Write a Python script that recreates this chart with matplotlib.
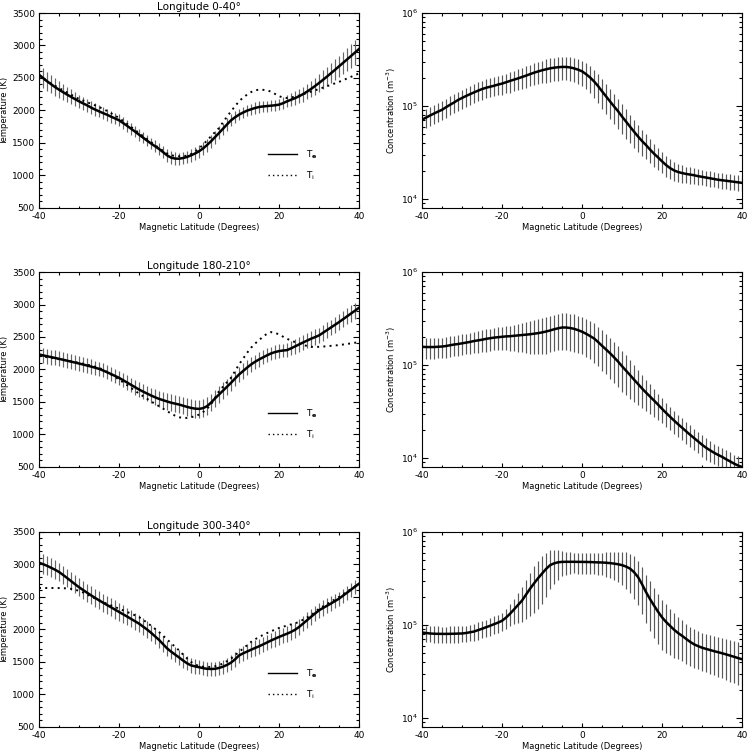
import numpy as np
import matplotlib
matplotlib.use("Agg")
import matplotlib.pyplot as plt
from matplotlib.ticker import MultipleLocator, LogLocator, NullFormatter
from matplotlib.lines import Line2D

# magnetic latitude grid, 1 degree steps
lat = list(range(-40, 41))

titles = ["Longitude 0-40°", "Longitude 180-210°", "Longitude 300-340°"]

# ---- Longitude 0-40 ----
te_0 = [2550, 2500, 2450, 2405, 2360, 2320, 2282, 2245, 2210, 2175,
        2141, 2110, 2080, 2045, 2015, 1987, 1960, 1935, 1905, 1878,
        1849, 1808, 1765, 1720, 1675, 1628, 1583, 1537, 1492, 1450,
        1408, 1360, 1310, 1275, 1260, 1258, 1268, 1285, 1310, 1338,
        1372, 1415, 1468, 1526, 1590, 1654, 1720, 1785, 1849, 1895,
        1936, 1968, 1997, 2018, 2038, 2054, 2062, 2068, 2074, 2080,
        2090, 2112, 2141, 2165, 2190, 2218, 2252, 2290, 2331, 2376,
        2423, 2472, 2522, 2574, 2626, 2679, 2732, 2785, 2838, 2892,
        2946]
te_err_0 = [160, 150, 145, 140, 135, 130, 125, 120, 115, 110,
            105, 100, 100, 95, 95, 90, 90, 90, 90, 90,
            90, 90, 90, 90, 90, 90, 90, 90, 90, 90,
            95, 95, 95, 95, 95, 95, 95, 95, 95, 95,
            100, 100, 100, 100, 100, 100, 95, 95, 90, 90,
            90, 88, 85, 85, 85, 85, 85, 85, 85, 85,
            90, 92, 95, 100, 105, 110, 115, 120, 125, 130,
            140, 145, 150, 155, 160, 165, 170, 175, 180, 190,
            200]
ti_0 = [2530, 2490, 2450, 2415, 2380, 2346, 2312, 2278, 2244, 2210,
        2177, 2152, 2128, 2104, 2080, 2054, 2025, 1993, 1958, 1922,
        1885, 1840, 1795, 1748, 1701, 1654, 1607, 1560, 1514, 1468,
        1423, 1380, 1340, 1312, 1300, 1295, 1298, 1305, 1330, 1368,
        1413, 1473, 1538, 1603, 1667, 1731, 1820, 1905, 1987, 2065,
        2141, 2198, 2243, 2283, 2310, 2320, 2318, 2310, 2290, 2255,
        2220, 2200, 2192, 2200, 2215, 2230, 2250, 2270, 2290, 2310,
        2330, 2352, 2374, 2396, 2418, 2440, 2466, 2492, 2518, 2544,
        2570]
# concentration in units of 1e3 m^-3, relative error
ne_0 = [71, 75, 79, 83, 87, 91, 97, 103, 109, 116,
        122, 128, 134, 140, 146, 152, 157, 161, 165, 170,
        174, 180, 186, 192, 198, 205, 212, 220, 228, 235,
        242, 248, 254, 258, 261, 263, 263, 260, 254, 246,
        236, 220, 203, 184, 164, 144, 127, 112, 99, 88,
        77, 68, 60, 53, 47, 42, 38, 34, 30.7, 28,
        25.4, 23.2, 21.5, 20.3, 19.5, 19.0, 18.6, 18.3, 18.0, 17.6,
        17.3, 17.0, 16.7, 16.4, 16.1, 15.9, 15.7, 15.5, 15.3, 15.1,
        14.9]
ne_rel_0 = [0.23, 0.23, 0.23, 0.23, 0.23, 0.23, 0.23, 0.23, 0.23, 0.23,
            0.23, 0.23, 0.23, 0.23, 0.23, 0.23, 0.23, 0.23, 0.23, 0.23,
            0.24, 0.24, 0.25, 0.25, 0.25, 0.26, 0.26, 0.26, 0.27, 0.27,
            0.27, 0.28, 0.28, 0.28, 0.28, 0.28, 0.28, 0.29, 0.29, 0.30,
            0.30, 0.31, 0.32, 0.33, 0.34, 0.35, 0.35, 0.35, 0.35, 0.35,
            0.35, 0.35, 0.34, 0.33, 0.32, 0.31, 0.30, 0.29, 0.28, 0.27,
            0.26, 0.25, 0.24, 0.23, 0.22, 0.21, 0.20, 0.20, 0.19, 0.19,
            0.19, 0.19, 0.19, 0.19, 0.19, 0.19, 0.19, 0.19, 0.19, 0.19,
            0.19]

# ---- Longitude 180-210 ----
te_1 = [2231, 2218, 2204, 2191, 2178, 2164, 2150, 2136, 2121, 2107,
        2092, 2077, 2061, 2045, 2028, 2010, 1985, 1958, 1930, 1901,
        1872, 1836, 1800, 1764, 1728, 1692, 1660, 1630, 1600, 1573,
        1548, 1528, 1508, 1490, 1475, 1461, 1443, 1425, 1409, 1398,
        1394, 1405, 1435, 1490, 1555, 1615, 1675, 1735, 1795, 1860,
        1923, 1975, 2028, 2077, 2118, 2154, 2186, 2218, 2247, 2268,
        2283, 2292, 2298, 2325, 2355, 2385, 2415, 2444, 2473, 2498,
        2524, 2565, 2606, 2647, 2688, 2729, 2773, 2817, 2861, 2905,
        2950]
te_err_1 = [115, 115, 115, 115, 115, 115, 115, 115, 115, 115,
            115, 115, 112, 110, 110, 110, 108, 105, 105, 105,
            105, 108, 110, 112, 115, 118, 120, 120, 120, 120,
            120, 122, 125, 128, 130, 132, 135, 138, 140, 140,
            140, 140, 138, 135, 132, 130, 128, 125, 122, 120,
            120, 118, 116, 114, 112, 110, 108, 106, 105, 105,
            105, 105, 105, 108, 110, 112, 115, 118, 120, 120,
            120, 120, 120, 122, 122, 122, 124, 124, 125, 125,
            125]
ti_1 = [2210, 2200, 2190, 2180, 2170, 2158, 2148, 2136, 2124, 2113,
        2103, 2090, 2075, 2060, 2043, 2026, 1996, 1961, 1924, 1886,
        1846, 1803, 1760, 1716, 1673, 1630, 1590, 1550, 1510, 1472,
        1435, 1398, 1360, 1322, 1290, 1265, 1255, 1255, 1265, 1282,
        1306, 1345, 1395, 1461, 1565, 1666, 1735, 1805, 1872, 1975,
        2077, 2165, 2255, 2334, 2398, 2452, 2505, 2550, 2575, 2565,
        2539, 2505, 2473, 2445, 2421, 2401, 2380, 2362, 2349, 2347,
        2349, 2353, 2358, 2364, 2370, 2375, 2384, 2393, 2402, 2412,
        2421]
ne_1 = [157, 156, 156, 156, 157, 158, 160, 163, 166, 168,
        171, 174, 177, 181, 184, 187, 191, 194, 197, 199,
        201, 203, 204, 206, 208, 210, 212, 214, 217, 220,
        224, 229, 235, 242, 248, 253, 253, 250, 245, 237,
        228, 217, 205, 193, 177, 161, 147, 134, 121, 109,
        97, 87, 78, 69.6, 62.5, 56, 50.5, 45.8, 41.5, 37.5,
        33.8, 30.6, 27.8, 25.3, 23.1, 21.2, 19.4, 17.8, 16.4, 15.1,
        13.9, 12.9, 12.1, 11.4, 10.8, 10.3, 9.7, 9.2, 8.7, 8.3,
        8.0]
ne_rel_1 = [0.25, 0.25, 0.25, 0.25, 0.25, 0.25, 0.25, 0.25, 0.25, 0.25,
            0.25, 0.25, 0.25, 0.26, 0.26, 0.26, 0.27, 0.27, 0.27, 0.28,
            0.28, 0.29, 0.30, 0.31, 0.33, 0.35, 0.37, 0.39, 0.40, 0.41,
            0.42, 0.42, 0.42, 0.42, 0.42, 0.42, 0.42, 0.43, 0.43, 0.43,
            0.43, 0.44, 0.44, 0.45, 0.45, 0.46, 0.46, 0.47, 0.47, 0.47,
            0.47, 0.46, 0.45, 0.43, 0.41, 0.39, 0.37, 0.35, 0.33, 0.31,
            0.30, 0.29, 0.28, 0.28, 0.27, 0.27, 0.27, 0.26, 0.26, 0.26,
            0.26, 0.26, 0.26, 0.25, 0.25, 0.25, 0.25, 0.25, 0.25, 0.25,
            0.25]

# ---- Longitude 300-340 ----
te_2 = [3028, 3005, 2980, 2950, 2920, 2885, 2840, 2793, 2745, 2697,
        2650, 2608, 2566, 2526, 2487, 2449, 2413, 2377, 2342, 2306,
        2270, 2235, 2200, 2163, 2127, 2090, 2045, 2000, 1950, 1895,
        1840, 1775, 1710, 1660, 1615, 1570, 1523, 1480, 1448, 1432,
        1420, 1405, 1395, 1392, 1395, 1408, 1428, 1455, 1490, 1540,
        1600, 1632, 1660, 1688, 1715, 1741, 1770, 1800, 1830, 1858,
        1885, 1910, 1935, 1962, 1995, 2038, 2090, 2142, 2195, 2245,
        2295, 2330, 2365, 2400, 2437, 2474, 2520, 2566, 2612, 2658,
        2705]
te_err_2 = [150, 150, 148, 146, 145, 145, 144, 143, 142, 141,
            140, 140, 140, 140, 140, 140, 140, 140, 140, 140,
            138, 136, 134, 132, 130, 130, 130, 128, 126, 124,
            122, 120, 118, 116, 114, 112, 112, 110, 110, 110,
            110, 110, 110, 110, 110, 110, 110, 110, 110, 110,
            110, 112, 114, 116, 118, 120, 120, 120, 120, 120,
            120, 120, 120, 120, 120, 120, 120, 120, 120, 120,
            118, 116, 114, 112, 110, 110, 110, 110, 110, 110,
            110]
ti_2 = [2638, 2638, 2638, 2638, 2638, 2637, 2635, 2632, 2625, 2612,
        2595, 2570, 2540, 2508, 2477, 2449, 2422, 2395, 2370, 2345,
        2320, 2295, 2270, 2244, 2218, 2190, 2150, 2105, 2058, 2010,
        1962, 1905, 1848, 1790, 1735, 1679, 1615, 1555, 1500, 1462,
        1438, 1428, 1423, 1425, 1435, 1449, 1478, 1512, 1551, 1602,
        1654, 1705, 1757, 1808, 1848, 1885, 1915, 1945, 1972, 1998,
        2023, 2042, 2060, 2078, 2096, 2115, 2150, 2184, 2218, 2268,
        2320, 2356, 2392, 2428, 2464, 2500, 2541, 2582, 2623, 2664,
        2705]
ne_2 = [83, 82, 81, 80.5, 80.3, 80.2, 80.2, 80.3, 80.5, 80.8,
        81, 82, 83.5, 85, 88, 91, 94.5, 98, 102, 106,
        111, 120, 132, 147, 164, 183, 212, 245, 280, 318,
        357, 400, 439, 460, 472, 477, 478, 478, 478, 477,
        477, 476, 475, 473, 471, 470, 467, 463, 457, 450,
        440, 425, 404, 370, 328, 275, 226, 190, 162, 139,
        121, 108, 98, 89, 82, 76.6, 71, 66, 62, 59.3,
        57, 55.3, 53.8, 52.3, 51, 49.7, 48.3, 46.9, 45.5, 44.1,
        42.8]
ne_rel_2 = [0.20, 0.20, 0.20, 0.20, 0.20, 0.20, 0.20, 0.20, 0.20, 0.20,
            0.20, 0.20, 0.20, 0.20, 0.21, 0.21, 0.21, 0.22, 0.22, 0.22,
            0.22, 0.24, 0.27, 0.31, 0.36, 0.41, 0.45, 0.49, 0.52, 0.53,
            0.53, 0.50, 0.45, 0.40, 0.35, 0.30, 0.28, 0.26, 0.25, 0.25,
            0.25, 0.25, 0.25, 0.25, 0.26, 0.27, 0.29, 0.31, 0.33, 0.36,
            0.39, 0.42, 0.45, 0.48, 0.50, 0.52, 0.54, 0.55, 0.55, 0.55,
            0.55, 0.54, 0.52, 0.50, 0.48, 0.47, 0.46, 0.45, 0.45, 0.44,
            0.44, 0.44, 0.45, 0.45, 0.46, 0.46, 0.47, 0.48, 0.48, 0.49,
            0.50]

te_all = [te_0, te_1, te_2]
te_err_all = [te_err_0, te_err_1, te_err_2]
ti_all = [ti_0, ti_1, ti_2]
ne_all = [ne_0, ne_1, ne_2]
ne_rel_all = [ne_rel_0, ne_rel_1, ne_rel_2]

DOTS = (0, (1, 2.2))


def style_axis(ax):
    ax.set_xlim(-40, 40)
    ax.xaxis.set_major_locator(MultipleLocator(20))
    ax.xaxis.set_minor_locator(MultipleLocator(5))
    ax.tick_params(which="both", direction="in", top=True, right=True,
                   labelsize=6.5, width=0.8, pad=3)
    ax.tick_params(axis="x", which="major", length=3.2)
    ax.tick_params(axis="x", which="minor", length=1.8)
    ax.tick_params(axis="y", which="major", length=4.6)
    ax.tick_params(axis="y", which="minor", length=2.4)
    for s in ax.spines.values():
        s.set_linewidth(0.8)
    ax.set_xlabel("Magnetic Latitude (Degrees)", fontsize=6, labelpad=1)


def main():
    plt.rcParams["axes.unicode_minus"] = False
    fig = plt.figure(figsize=(7.52, 7.56), dpi=100)

    left_x, right_x, w, h = 0.0519, 0.5612, 0.4255, 0.2579
    bottoms = [0.7249, 0.3823, 0.0384]

    for i in range(3):
        ax = fig.add_axes([left_x, bottoms[i], w, h])
        style_axis(ax)
        te = np.array(te_all[i])
        ax.errorbar(lat, te, yerr=te_err_all[i], fmt="none", ecolor="0.4",
                    elinewidth=0.85, capsize=0)
        ax.plot(lat, te, color="k", lw=1.8)
        ax.plot(lat, ti_all[i], color="k", lw=1.4, linestyle=DOTS)
        ax.set_ylim(500, 3500)
        ax.yaxis.set_major_locator(MultipleLocator(500))
        ax.yaxis.set_minor_locator(MultipleLocator(100))
        ax.set_ylabel("Temperature (K)", fontsize=6, labelpad=2)
        ax.set_title(titles[i], fontsize=7.5, pad=2.5)
        handles = [Line2D([], [], color="k", lw=1.0),
                   Line2D([], [], color="k", lw=1.0, linestyle=DOTS)]
        ax.legend(handles, ["T$_\\mathbf{e}$", "T$_\\mathrm{i}$"], loc="center left",
                  bbox_to_anchor=(0.69, 0.22), frameon=False, fontsize=6.5,
                  handlelength=3.2, labelspacing=1.0, handletextpad=1.0)

        ax2 = fig.add_axes([right_x, bottoms[i], w, h])
        style_axis(ax2)
        ne = np.array(ne_all[i]) * 1e3
        err = ne * np.array(ne_rel_all[i])
        ax2.errorbar(lat, ne, yerr=err, fmt="none", ecolor="0.35",
                     elinewidth=0.85, capsize=0)
        ax2.plot(lat, ne, color="k", lw=1.8)
        ax2.set_yscale("log")
        ax2.set_ylim(8e3, 1e6)
        ax2.yaxis.set_major_locator(LogLocator(base=10))
        ax2.yaxis.set_minor_locator(LogLocator(base=10, subs=np.arange(2, 10)))
        ax2.yaxis.set_minor_formatter(NullFormatter())
        ax2.set_ylabel("Concentration (m$^{-3}$)", fontsize=6, labelpad=2)

    plt.savefig("out.png", dpi=100)


if __name__ == '__main__':
    main()
